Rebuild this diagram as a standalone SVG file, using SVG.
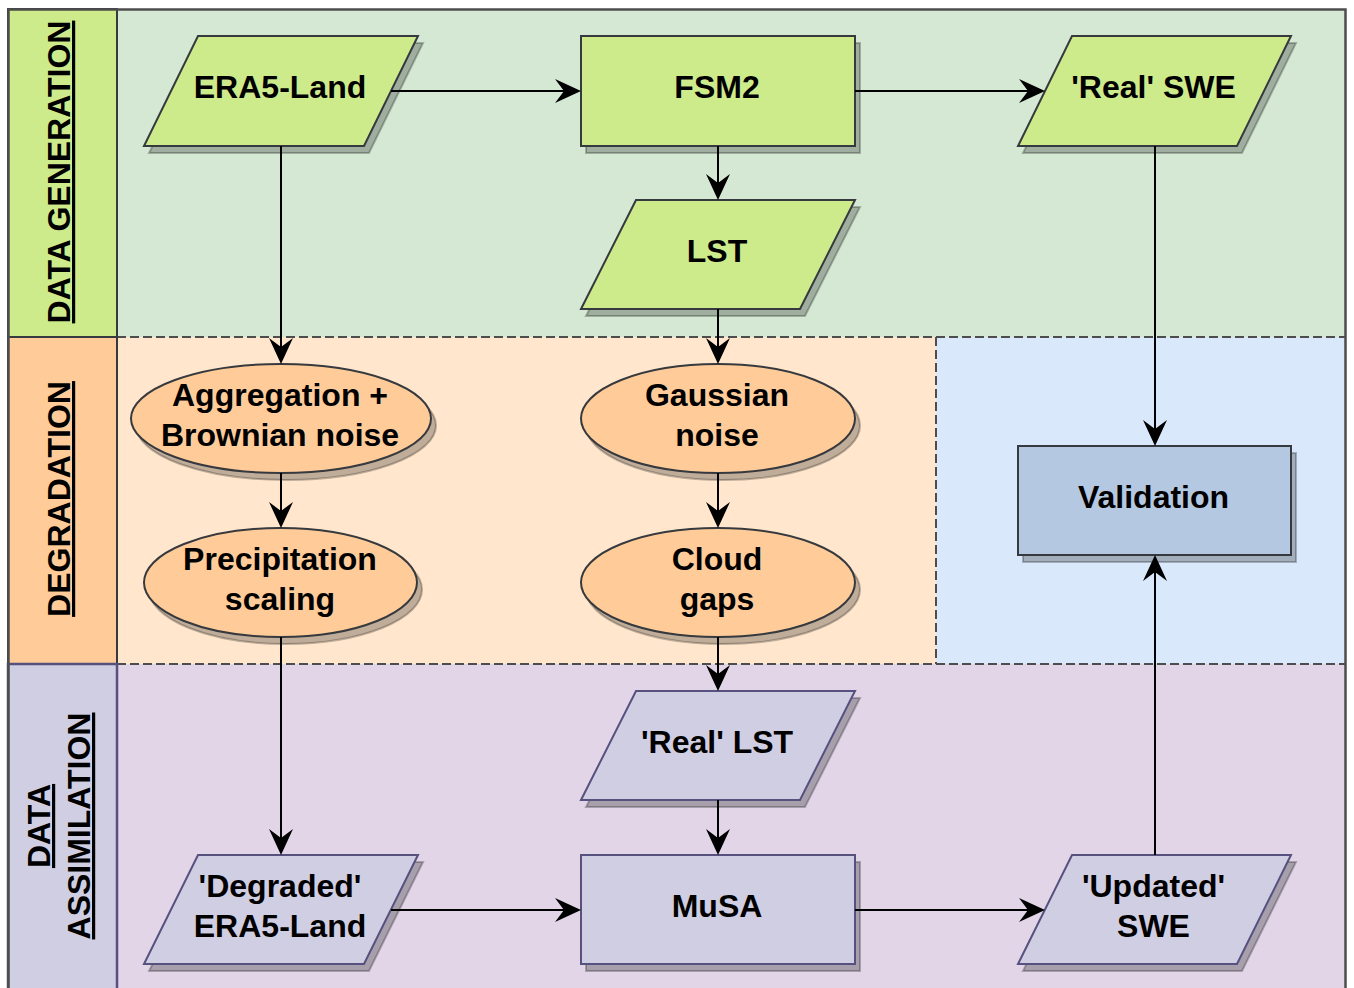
<svg xmlns="http://www.w3.org/2000/svg" width="1354" height="988" viewBox="0 0 1354 988">
<defs>
<style>
.lbl{font-family:"Liberation Sans",Arial,Helvetica,sans-serif;font-weight:bold;font-size:32px;fill:#000;text-anchor:middle;text-decoration:underline}
.t{font-family:"Liberation Sans",Arial,Helvetica,sans-serif;font-weight:bold;font-size:32px;fill:#000;text-anchor:middle}
.sh{fill:#000;fill-opacity:0.25;stroke:#000;stroke-opacity:0.25;stroke-width:2}
.g{fill:#cdeb8b;stroke:#36393d;stroke-width:2}
.o{fill:#ffcc99;stroke:#36393d;stroke-width:2}
.b{fill:#b4c9e1;stroke:#36393d;stroke-width:2}
.p{fill:#d0cee2;stroke:#56517e;stroke-width:2}
.dash{fill:none;stroke:#4d4d4d;stroke-width:2;stroke-dasharray:9 4}
.c{fill:none;stroke:#000;stroke-width:2;marker-end:url(#arr)}
</style>
<marker id="arr" viewBox="0 0 26 24" refX="10" refY="12" markerWidth="26" markerHeight="24" orient="auto" markerUnits="userSpaceOnUse">
<path d="M26,12 L0,0 L9,12 L0,24 Z" fill="#000"/>
</marker>
</defs>

<g id="lanes">
<rect x="117" y="9" width="1228" height="328" fill="#d5e8d4"/>
<rect x="117" y="337" width="819" height="327" fill="#ffe6cc"/>
<rect x="936" y="337" width="409" height="327" fill="#dae8fc"/>
<rect x="117" y="664" width="1228" height="330" fill="#e1d5e7"/>
<path class="dash" d="M117,337 H1345 M117,664 H1345 M936,337 V664"/>
</g>

<g id="lane-data-generation">
<rect x="8" y="9" width="109" height="328" fill="#cdeb8b" stroke="#36393d" stroke-width="2"/>
<text class="lbl" transform="translate(70,172) rotate(-90)">DATA GENERATION</text>
</g>
<g id="lane-degradation">
<rect x="8" y="337" width="109" height="327" fill="#ffcc99" stroke="#36393d" stroke-width="2"/>
<text class="lbl" transform="translate(70,499) rotate(-90)">DEGRADATION</text>
</g>
<g id="lane-data-assimilation">
<rect x="8" y="664" width="109" height="330" fill="#d0cee2" stroke="#56517e" stroke-width="2.5"/>
<text class="lbl" transform="translate(90,826) rotate(-90)"><tspan x="0" y="-40">DATA</tspan><tspan x="0" y="0">ASSIMILATION</tspan></text>
</g>

<rect id="frame" x="8.5" y="9.5" width="1337" height="1000" fill="none" stroke="#4d4d4d" stroke-width="2.5"/>

<g id="era5-land">
<path class="sh" transform="translate(5,7)" d="M198,36 L418,36 L364,146 L144,146 Z"/>
<path class="g" d="M198,36 L418,36 L364,146 L144,146 Z"/>
<text class="t" x="280" y="98">ERA5-Land</text>
</g>
<g id="fsm2">
<rect class="sh" x="586" y="43" width="274" height="110"/>
<rect class="g" x="581" y="36" width="274" height="110"/>
<text class="t" x="717" y="98">FSM2</text>
</g>
<g id="real-swe">
<path class="sh" transform="translate(5,7)" d="M1072,36 L1291,36 L1237,146 L1018,146 Z"/>
<path class="g" d="M1072,36 L1291,36 L1237,146 L1018,146 Z"/>
<text class="t" x="1153.5" y="98">'Real' SWE</text>
</g>
<g id="lst">
<path class="sh" transform="translate(5,7)" d="M636,200 L855,200 L800,309 L581,309 Z"/>
<path class="g" d="M636,200 L855,200 L800,309 L581,309 Z"/>
<text class="t" x="717" y="261.5">LST</text>
</g>

<g id="aggregation">
<ellipse class="sh" cx="286" cy="425.5" rx="150" ry="54.5"/>
<ellipse class="o" cx="281" cy="418.5" rx="150" ry="54.5"/>
<text class="t" x="280" y="405.5">Aggregation +</text>
<text class="t" x="280" y="445.5">Brownian noise</text>
</g>
<g id="precipitation">
<ellipse class="sh" cx="285.5" cy="589.5" rx="136.5" ry="54.5"/>
<ellipse class="o" cx="280.5" cy="582.5" rx="136.5" ry="54.5"/>
<text class="t" x="280" y="569.5">Precipitation</text>
<text class="t" x="280" y="609.5">scaling</text>
</g>
<g id="gaussian">
<ellipse class="sh" cx="723" cy="425.5" rx="137" ry="54.5"/>
<ellipse class="o" cx="718" cy="418.5" rx="137" ry="54.5"/>
<text class="t" x="717" y="405.5">Gaussian</text>
<text class="t" x="717" y="445.5">noise</text>
</g>
<g id="cloud-gaps">
<ellipse class="sh" cx="723" cy="589.5" rx="137" ry="54.5"/>
<ellipse class="o" cx="718" cy="582.5" rx="137" ry="54.5"/>
<text class="t" x="717" y="569.5">Cloud</text>
<text class="t" x="717" y="609.5">gaps</text>
</g>
<g id="validation">
<rect class="sh" x="1023" y="453" width="273" height="109"/>
<rect class="b" x="1018" y="446" width="273" height="109"/>
<text class="t" x="1153.5" y="507.5">Validation</text>
</g>

<g id="real-lst">
<path class="sh" transform="translate(5,7)" d="M636,691 L855,691 L800,800 L581,800 Z"/>
<path class="p" d="M636,691 L855,691 L800,800 L581,800 Z"/>
<text class="t" x="717" y="752.5">'Real' LST</text>
</g>
<g id="degraded-era5">
<path class="sh" transform="translate(5,7)" d="M198,855 L418,855 L364,964 L144,964 Z"/>
<path class="p" d="M198,855 L418,855 L364,964 L144,964 Z"/>
<text class="t" x="280" y="896.5">'Degraded'</text>
<text class="t" x="280" y="936.5">ERA5-Land</text>
</g>
<g id="musa">
<rect class="sh" x="586" y="862" width="274" height="109"/>
<rect class="p" x="581" y="855" width="274" height="109"/>
<text class="t" x="717" y="916.5">MuSA</text>
</g>
<g id="updated-swe">
<path class="sh" transform="translate(5,7)" d="M1072,855 L1291,855 L1237,964 L1018,964 Z"/>
<path class="p" d="M1072,855 L1291,855 L1237,964 L1018,964 Z"/>
<text class="t" x="1153.5" y="896.5">'Updated'</text>
<text class="t" x="1153.5" y="936.5">SWE</text>
</g>

<g id="connectors">
<path class="c" d="M391,91 H565"/>
<path class="c" d="M855,91 H1029"/>
<path class="c" d="M718,146 V184"/>
<path class="c" d="M281,146 V348"/>
<path class="c" d="M718,309 V348"/>
<path class="c" d="M1155,146 V430"/>
<path class="c" d="M281,473 V512"/>
<path class="c" d="M718,473 V512"/>
<path class="c" d="M281,637 V839"/>
<path class="c" d="M718,637 V675"/>
<path class="c" d="M718,800 V839"/>
<path class="c" d="M391,910 H565"/>
<path class="c" d="M855,910 H1029"/>
<path class="c" d="M1155,855 V571"/>
</g>
</svg>
